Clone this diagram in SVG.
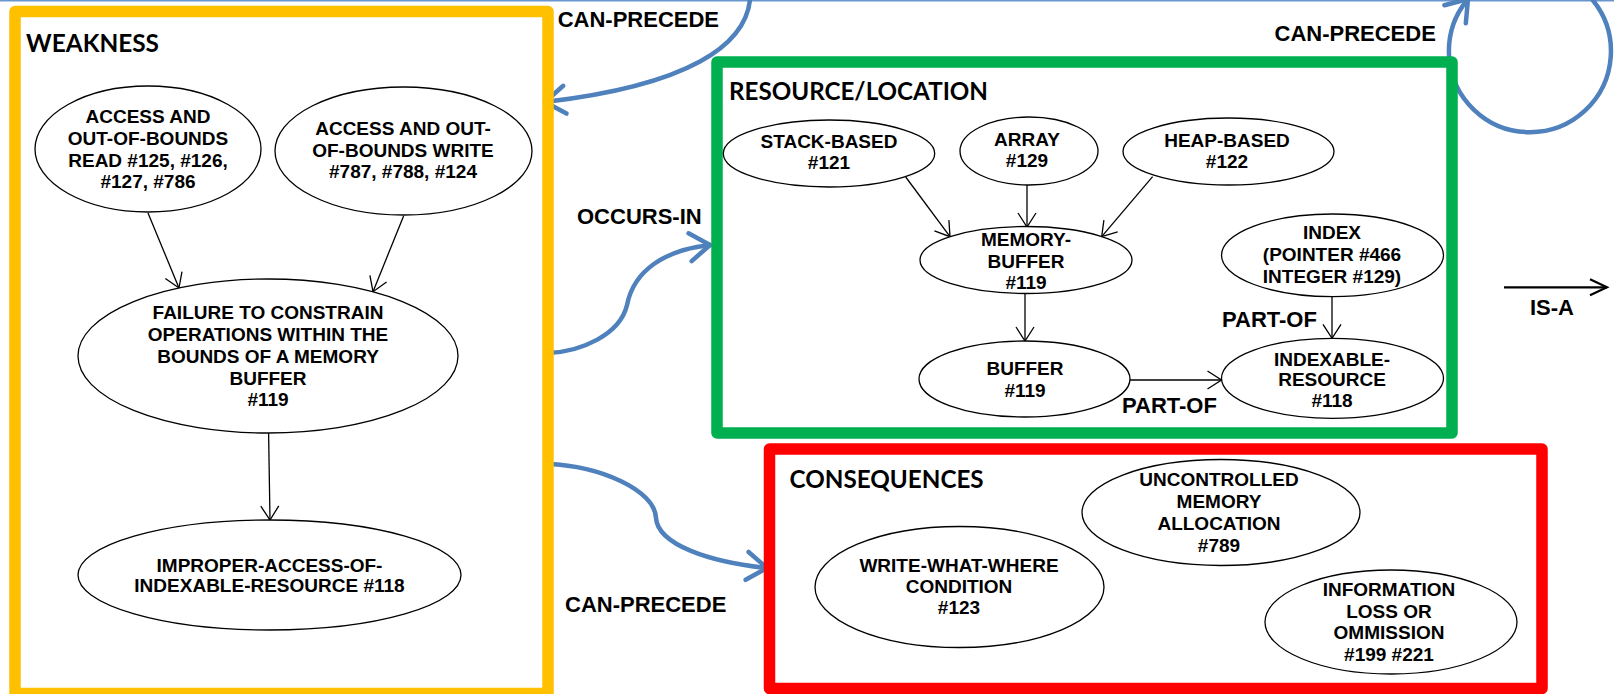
<svg xmlns="http://www.w3.org/2000/svg" width="1614" height="694" viewBox="0 0 1614 694">
<style>
.bg{fill:#ffffff}
.box{fill:none;stroke-width:11.5;stroke-linejoin:round}
.title{font-family:Lato,"Open Sans","Liberation Sans",sans-serif;font-weight:bold;font-size:24px;fill:#000}
.node ellipse{fill:#fff;stroke:#000;stroke-width:1.3}
.node text{font-family:"Liberation Sans",Arial,sans-serif;font-weight:bold;font-size:19px;fill:#000;text-anchor:middle}
.lbl{font-family:"Liberation Sans",Arial,sans-serif;font-weight:bold;font-size:22px;fill:#000}
.edge{fill:none;stroke:#000;stroke-width:1.3}
.rel{fill:none;stroke:#4F81BD;stroke-width:4.5;stroke-linecap:round}
</style>
<defs>
<marker id="ah" viewBox="0 0 14 18" refX="14" refY="9" markerWidth="14" markerHeight="18" markerUnits="userSpaceOnUse" orient="auto" overflow="visible">
<path d="M0,0 L14,9 L0,18" fill="none" stroke="#000" stroke-width="1.3"/>
</marker>
<marker id="ahb" viewBox="0 0 22 30" refX="21" refY="15" markerWidth="22" markerHeight="30" markerUnits="userSpaceOnUse" orient="auto" overflow="visible">
<path d="M1,1 L21,15 L1,29" fill="none" stroke="#4F81BD" stroke-width="4.5" stroke-linecap="round" stroke-linejoin="round"/>
</marker>
<marker id="ahl" viewBox="0 0 18 18" refX="17" refY="9" markerWidth="18" markerHeight="18" markerUnits="userSpaceOnUse" orient="auto" overflow="visible">
<path d="M0,1 L17,9 L0,17" fill="none" stroke="#000" stroke-width="2.2"/>
</marker>
</defs>
<rect class="bg" x="0" y="0" width="1614" height="694"/>
<line x1="0" y1="0.7" x2="1614" y2="0.7" stroke="#6A96CF" stroke-width="1.5"/>

<g id="connectors">
<path class="rel" d="M750,0 C745,45 690,85 545,102" marker-end="url(#ahb)"/>
<path class="rel" d="M1592.7,0 A81,81 0 1 1 1468,-1" marker-end="url(#ahb)"/>
<path class="rel" d="M548,353 C580,352 620,335 627,305 C634,270 665,250 710,245" marker-end="url(#ahb)"/>
<path class="rel" d="M548,464 C600,466 655,490 656,518 C658,545 710,562 767,568" marker-end="url(#ahb)"/>
<line class="edge" x1="148" y1="213" x2="179" y2="288" marker-end="url(#ah)"/>
<line class="edge" x1="403.6" y1="216" x2="373" y2="291.7" marker-end="url(#ah)"/>
<line class="edge" x1="268.6" y1="433" x2="270" y2="520" marker-end="url(#ah)"/>
<line class="edge" x1="905.7" y1="177" x2="950" y2="236.7" marker-end="url(#ah)"/>
<line class="edge" x1="1027" y1="185" x2="1027" y2="227" marker-end="url(#ah)"/>
<line class="edge" x1="1152.6" y1="176.7" x2="1101.7" y2="236.7" marker-end="url(#ah)"/>
<line class="edge" x1="1025" y1="293" x2="1025" y2="341" marker-end="url(#ah)"/>
<line class="edge" x1="1332" y1="296.7" x2="1332" y2="338.3" marker-end="url(#ah)"/>
<line class="edge" x1="1130" y1="380" x2="1221.5" y2="380" marker-end="url(#ah)"/>
<text class="lbl" x="557.7" y="27.3">CAN-PRECEDE</text>
<text class="lbl" x="1274.5" y="41">CAN-PRECEDE</text>
<text class="lbl" x="577" y="224.3">OCCURS-IN</text>
<text class="lbl" x="1222" y="326.7">PART-OF</text>
<text class="lbl" x="1122" y="413.3">PART-OF</text>
<text class="lbl" x="565" y="611.7">CAN-PRECEDE</text>
</g>

<g id="weakness">
<rect class="box" x="15" y="11.5" width="533" height="682" stroke="#FFC000"/>
<text class="title" x="26" y="52" textLength="133" lengthAdjust="spacingAndGlyphs">WEAKNESS</text>
</g>
<g id="resource-location">
<rect class="box" x="717" y="62" width="735" height="371" stroke="#00B050"/>
<text class="title" x="729" y="100" textLength="259" lengthAdjust="spacingAndGlyphs">RESOURCE/LOCATION</text>
</g>
<g id="consequences">
<rect class="box" x="769.5" y="449" width="772.5" height="239.5" stroke="#FF0000"/>
<text class="title" x="789.6" y="488.3" textLength="194" lengthAdjust="spacingAndGlyphs">CONSEQUENCES</text>
</g>

<g id="oob-read" class="node">
<ellipse cx="148" cy="149" rx="113" ry="63"/>
<text x="148" y="123.3">ACCESS AND</text>
<text x="148" y="145">OUT-OF-BOUNDS</text>
<text x="148" y="166.7">READ #125, #126,</text>
<text x="148" y="188.3">#127, #786</text>
</g>
<g id="oob-write" class="node">
<ellipse cx="403.5" cy="151" rx="128.5" ry="64"/>
<text x="403" y="135">ACCESS AND OUT-</text>
<text x="403" y="156.7">OF-BOUNDS WRITE</text>
<text x="403" y="178.3">#787, #788, #124</text>
</g>
<g id="failure-119" class="node">
<ellipse cx="268" cy="356" rx="190" ry="77"/>
<text x="268" y="319">FAILURE TO CONSTRAIN</text>
<text x="268" y="340.7">OPERATIONS WITHIN THE</text>
<text x="268" y="362.7">BOUNDS OF A MEMORY</text>
<text x="268" y="385">BUFFER</text>
<text x="268" y="406">#119</text>
</g>
<g id="improper-118" class="node">
<ellipse cx="269.5" cy="575" rx="191.5" ry="55"/>
<text x="269.5" y="571.7">IMPROPER-ACCESS-OF-</text>
<text x="269.5" y="592">INDEXABLE-RESOURCE #118</text>
</g>

<g id="stack-based" class="node">
<ellipse cx="829" cy="153.5" rx="105.7" ry="33.5"/>
<text x="829" y="148.3">STACK-BASED</text>
<text x="829" y="169.3">#121</text>
</g>
<g id="array" class="node">
<ellipse cx="1029" cy="151" rx="69" ry="34"/>
<text x="1027" y="145.7">ARRAY</text>
<text x="1027" y="166.7">#129</text>
</g>
<g id="heap-based" class="node">
<ellipse cx="1228.5" cy="151.5" rx="105.5" ry="33.5"/>
<text x="1227" y="146.7">HEAP-BASED</text>
<text x="1227" y="168.3">#122</text>
</g>
<g id="memory-buffer" class="node">
<ellipse cx="1026" cy="260" rx="106" ry="33.5"/>
<text x="1026" y="246">MEMORY-</text>
<text x="1026" y="268">BUFFER</text>
<text x="1026" y="289">#119</text>
</g>
<g id="index" class="node">
<ellipse cx="1332.5" cy="255.3" rx="111" ry="41.3"/>
<text x="1332" y="239.3">INDEX</text>
<text x="1332" y="261">(POINTER #466</text>
<text x="1332" y="282.7">INTEGER #129)</text>
</g>
<g id="buffer" class="node">
<ellipse cx="1024.5" cy="379" rx="105.5" ry="38"/>
<text x="1025" y="375">BUFFER</text>
<text x="1025" y="396.7">#119</text>
</g>
<g id="indexable-resource" class="node">
<ellipse cx="1332.5" cy="378.3" rx="111" ry="40"/>
<text x="1332" y="365.7">INDEXABLE-</text>
<text x="1332" y="385.7">RESOURCE</text>
<text x="1332" y="406.7">#118</text>
</g>

<g id="write-what-where" class="node">
<ellipse cx="959.5" cy="587" rx="144.5" ry="60.5"/>
<text x="959" y="571.7">WRITE-WHAT-WHERE</text>
<text x="959" y="592.7">CONDITION</text>
<text x="959" y="614.3">#123</text>
</g>
<g id="uncontrolled-alloc" class="node">
<ellipse cx="1221" cy="512.5" rx="139" ry="53"/>
<text x="1219" y="485.7">UNCONTROLLED</text>
<text x="1219" y="507.7">MEMORY</text>
<text x="1219" y="530">ALLOCATION</text>
<text x="1219" y="551.7">#789</text>
</g>
<g id="info-loss" class="node">
<ellipse cx="1391" cy="622" rx="126" ry="52"/>
<text x="1389" y="595.7">INFORMATION</text>
<text x="1389" y="617.7">LOSS OR</text>
<text x="1389" y="639.3">OMMISSION</text>
<text x="1389" y="660.7">#199 #221</text>
</g>

<g id="legend">
<line x1="1504" y1="287.3" x2="1607" y2="287.3" stroke="#000" stroke-width="2.2" marker-end="url(#ahl)"/>
<text class="lbl" x="1530" y="315">IS-A</text>
</g>
</svg>
